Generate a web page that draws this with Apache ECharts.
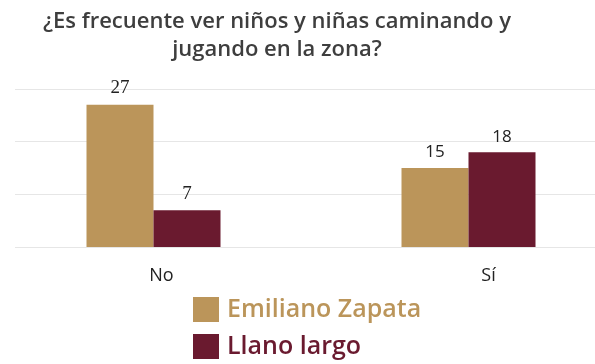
<!DOCTYPE html>
<html>
<head>
<meta charset="utf-8">
<script src="https://cdn.jsdelivr.net/npm/echarts@6/dist/echarts.min.js"></script>
<style>
  html, body { margin: 0; padding: 0; background: #fff; }
  #chart { width: 595px; height: 364px; }
</style>
</head>
<body>
<div id="chart"></div>
<script>
// Data
const categories = ['No', 'Sí'];
const seriesNames = ['Emiliano Zapata', 'Llano largo'];
const emilianoValues = [27, 15];
const llanoValues = [7, 18];
const yTicks = [0, 10, 20, 30];

const GOLD = '#BB955A';
const MAROON = '#6A1A2F';

const chart = echarts.init(document.getElementById('chart'));

// "No" bars show serif numbers, "Sí" bars sans
const valueLabel = {
    show: true,
    position: 'top',
    distance: 7,
    formatter: p => p.dataIndex === 0 ? '{s|' + p.value + '}' : '{n|' + p.value + '}',
    rich: {
        s: { fontFamily: 'Liberation Serif', fontSize: 19, color: '#222' },
        n: { fontFamily: 'Open Sans', fontSize: 17, color: '#222' }
    }
};

function legendFor(name, color, top) {
    return {
        orient: 'vertical',
        left: 193,
        top: top,
        padding: 0,
        itemWidth: 26,
        itemHeight: 25,
        icon: 'rect',
        textStyle: { fontFamily: 'Open Sans', fontSize: 25, fontWeight: 600, color: color, padding: [0, 0, 0, 3] },
        data: [name]
    };
}

chart.setOption({
    animation: false,
    backgroundColor: '#fff',
    title: {
        text: '¿Es frecuente ver niños y niñas caminando y\njugando en la zona?',
        left: 272,
        top: 3,
        textAlign: 'center',
        textStyle: {
            fontFamily: 'Open Sans',
            fontWeight: 600,
            fontSize: 22,
            lineHeight: 28,
            color: '#3e3e3e'
        }
    },
    legend: [
        legendFor(seriesNames[0], GOLD, 297),
        legendFor(seriesNames[1], MAROON, 334)
    ],
    grid: [
        { left: 15, right: 0, top: 89, bottom: 117, outerBoundsMode: 'none' },
        { left: -4, right: -31, top: 89, bottom: 117, outerBoundsMode: 'none' }
    ],
    xAxis: [
        { gridIndex: 0, type: 'category', data: categories, show: false },
        {
            gridIndex: 1,
            type: 'category',
            data: categories,
            axisLine: { show: false },
            axisTick: { show: false },
            axisLabel: {
                margin: 20,
                formatter: (v, i) => i === 0 ? '{a|' + v + '}' : '{b|' + v + '}',
                rich: {
                    a: { color: '#222', fontFamily: 'Open Sans', fontSize: 18, padding: [0, 0, 0, 16] },
                    b: { color: '#222', fontFamily: 'Open Sans', fontSize: 18, padding: [0, 0, 0, 40] }
                }
            }
        }
    ],
    yAxis: [
        {
            gridIndex: 0,
            type: 'value',
            min: yTicks[0],
            max: yTicks[yTicks.length - 1],
            interval: 10,
            axisLabel: { show: false },
            axisLine: { show: false },
            axisTick: { show: false },
            splitLine: { lineStyle: { color: '#e6e6e6', width: 1 } }
        },
        {
            gridIndex: 1,
            type: 'value',
            min: yTicks[0],
            max: yTicks[yTicks.length - 1],
            interval: 10,
            show: false,
            splitLine: { show: false }
        }
    ],
    series: [
        {
            name: seriesNames[0],
            type: 'bar',
            xAxisIndex: 1,
            yAxisIndex: 1,
            data: emilianoValues,
            barWidth: 67,
            barGap: '0%',
            itemStyle: { color: GOLD },
            label: valueLabel
        },
        {
            name: seriesNames[1],
            type: 'bar',
            xAxisIndex: 1,
            yAxisIndex: 1,
            data: llanoValues,
            barWidth: 67,
            barGap: '0%',
            itemStyle: { color: MAROON },
            label: valueLabel
        }
    ]
});
</script>
</body>
</html>
